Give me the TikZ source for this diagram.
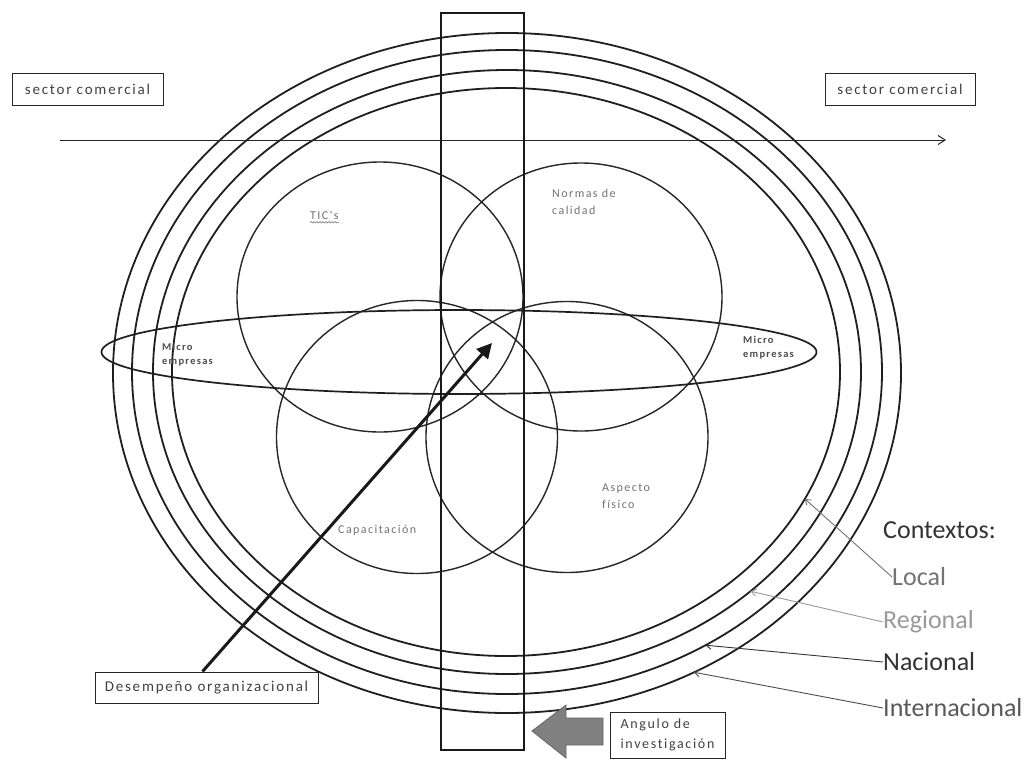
\documentclass[tikz,border=0pt]{standalone}
\usepackage{fontspec}
\setmainfont{Carlito}[Ligatures=NoCommon]
\newfontfamily\spc{Carlito}[LetterSpace=12,Ligatures=NoCommon]
\usetikzlibrary{arrows.meta,shapes.geometric,decorations.pathmorphing}
\begin{document}
\begin{tikzpicture}[x=1pt,y=-1pt,
  ring/.style={ellipse, draw=black!88, line width=1.8pt, inner sep=0pt, outer sep=0pt},
  venn/.style={ellipse, draw=black!85, line width=1.4pt, inner sep=0pt, outer sep=0pt},
  tag/.style={font=\spc\fontsize{12}{17}\selectfont, text=black!55, align=left, inner sep=0pt, anchor=west},
  mtag/.style={font=\spc\bfseries\fontsize{10.5}{14}\selectfont, text=black!70, align=left, inner sep=0pt, anchor=west},
  lbox/.style={draw=black!85, fill=white, line width=1pt, font=\spc\fontsize{15}{19}\selectfont, text=black!75, inner sep=0pt},
  ctx/.style={font=\fontsize{26}{30}\selectfont, inner sep=0pt, anchor=west},
  ptr/.style={line width=0.9pt, -{Straight Barb[length=5pt,width=7pt]}}
]
\useasboundingbox[fill=white] (0,0) rectangle (1029,761);

% context rings
\node[ring, minimum width=788pt, minimum height=680pt] (r1) at (507,373) {};
\node[ring, minimum width=750pt, minimum height=644pt] (r2) at (507,372) {};
\node[ring, minimum width=708pt, minimum height=604pt] (r3) at (507,372) {};
\node[ring, minimum width=668pt, minimum height=568pt] (r4) at (506,372) {};

% sector line
\node[lbox, minimum width=151pt, minimum height=32pt] (sc1) at (87.5,89) {sector comercial};
\node[lbox, minimum width=150pt, minimum height=32pt] (sc2) at (900,89) {sector comercial};
\coordinate (a1) at (60,140);
\coordinate (a2) at (946,140);
\draw[line width=1pt, black!85, -{Straight Barb[length=7pt,width=9pt]}] (a1) -- (a2);

% venn circles
\node[venn, minimum width=286pt, minimum height=270pt] (tic) at (380,297) {};
\node[venn, minimum width=282pt, minimum height=268pt] (nor) at (581,297) {};
\node[venn, minimum width=281pt, minimum height=273pt] (cap) at (417,437) {};
\node[venn, minimum width=282pt, minimum height=271pt] (asp) at (567,437) {};

% micro empresas ellipse
\node[ring, line width=1.7pt, minimum width=715pt, minimum height=84pt] (micro) at (459,352) {};

% research angle strip
\node[draw=black!90, line width=1.7pt, inner sep=0pt, minimum width=83pt, minimum height=737pt] (strip) at (482.5,381.5) {};

% labels
\node[tag] (tictxt) at (310,215) {TIC's};
\draw[decorate, decoration={snake, amplitude=0.7pt, segment length=3pt}, black!50, line width=0.6pt]
  ([yshift=-3pt]tictxt.south west) -- ([yshift=-3pt]tictxt.south east);
\node[tag] (nortxt) at (552,202) {Normas de\\calidad};
\node[mtag] (m1) at (162,355) {Micro\\empresas};
\node[mtag] (m2) at (743,348) {Micro\\empresas};
\node[tag] (asptxt) at (602,496) {Aspecto\\físico};
\node[tag] (captxt) at (338,530) {Capacitación};

% contexts
\node[ctx, text=black!80] (cx) at (883,530) {Contextos:};
\node[ctx, text=black!55] (loc) at (892,577) {Local};
\node[ctx, text=black!40] (reg) at (883,622) {Regional};
\node[ctx, text=black!80] (nac) at (883,662) {Nacional};
\node[ctx, text=black!65] (int) at (883,708) {Internacional};
\draw[ptr, black!55] (loc.west) -- (r4.-23);
\draw[ptr, black!40] (reg.west) -- (r3.-42);
\draw[ptr, black!80] (nac.west) -- (r2.-54);
\draw[ptr, black!70] (int.west) -- (r1.-58);

% performance
\node[lbox, minimum width=223pt, minimum height=31pt] (des) at (206.5,687.5) {Desempeño organizacional};
\coordinate (tip) at (492,343);
\draw[line width=3pt, black!90, -{Triangle[length=15pt,width=15pt]}] ([xshift=-4pt]des.north) -- (tip);

% research angle
\node[lbox, font=\spc\fontsize{14}{20}\selectfont, align=left, minimum width=115pt, minimum height=46pt] (ang) at (667.5,735) {Angulo de\\investigación};
\draw[fill=black!50, draw=black!60, line width=0.8pt]
  (532,731) -- (566,705) -- (566,718) -- (603,718) -- (603,745) -- (566,745) -- (566,758) -- cycle;
\end{tikzpicture}
\end{document}
